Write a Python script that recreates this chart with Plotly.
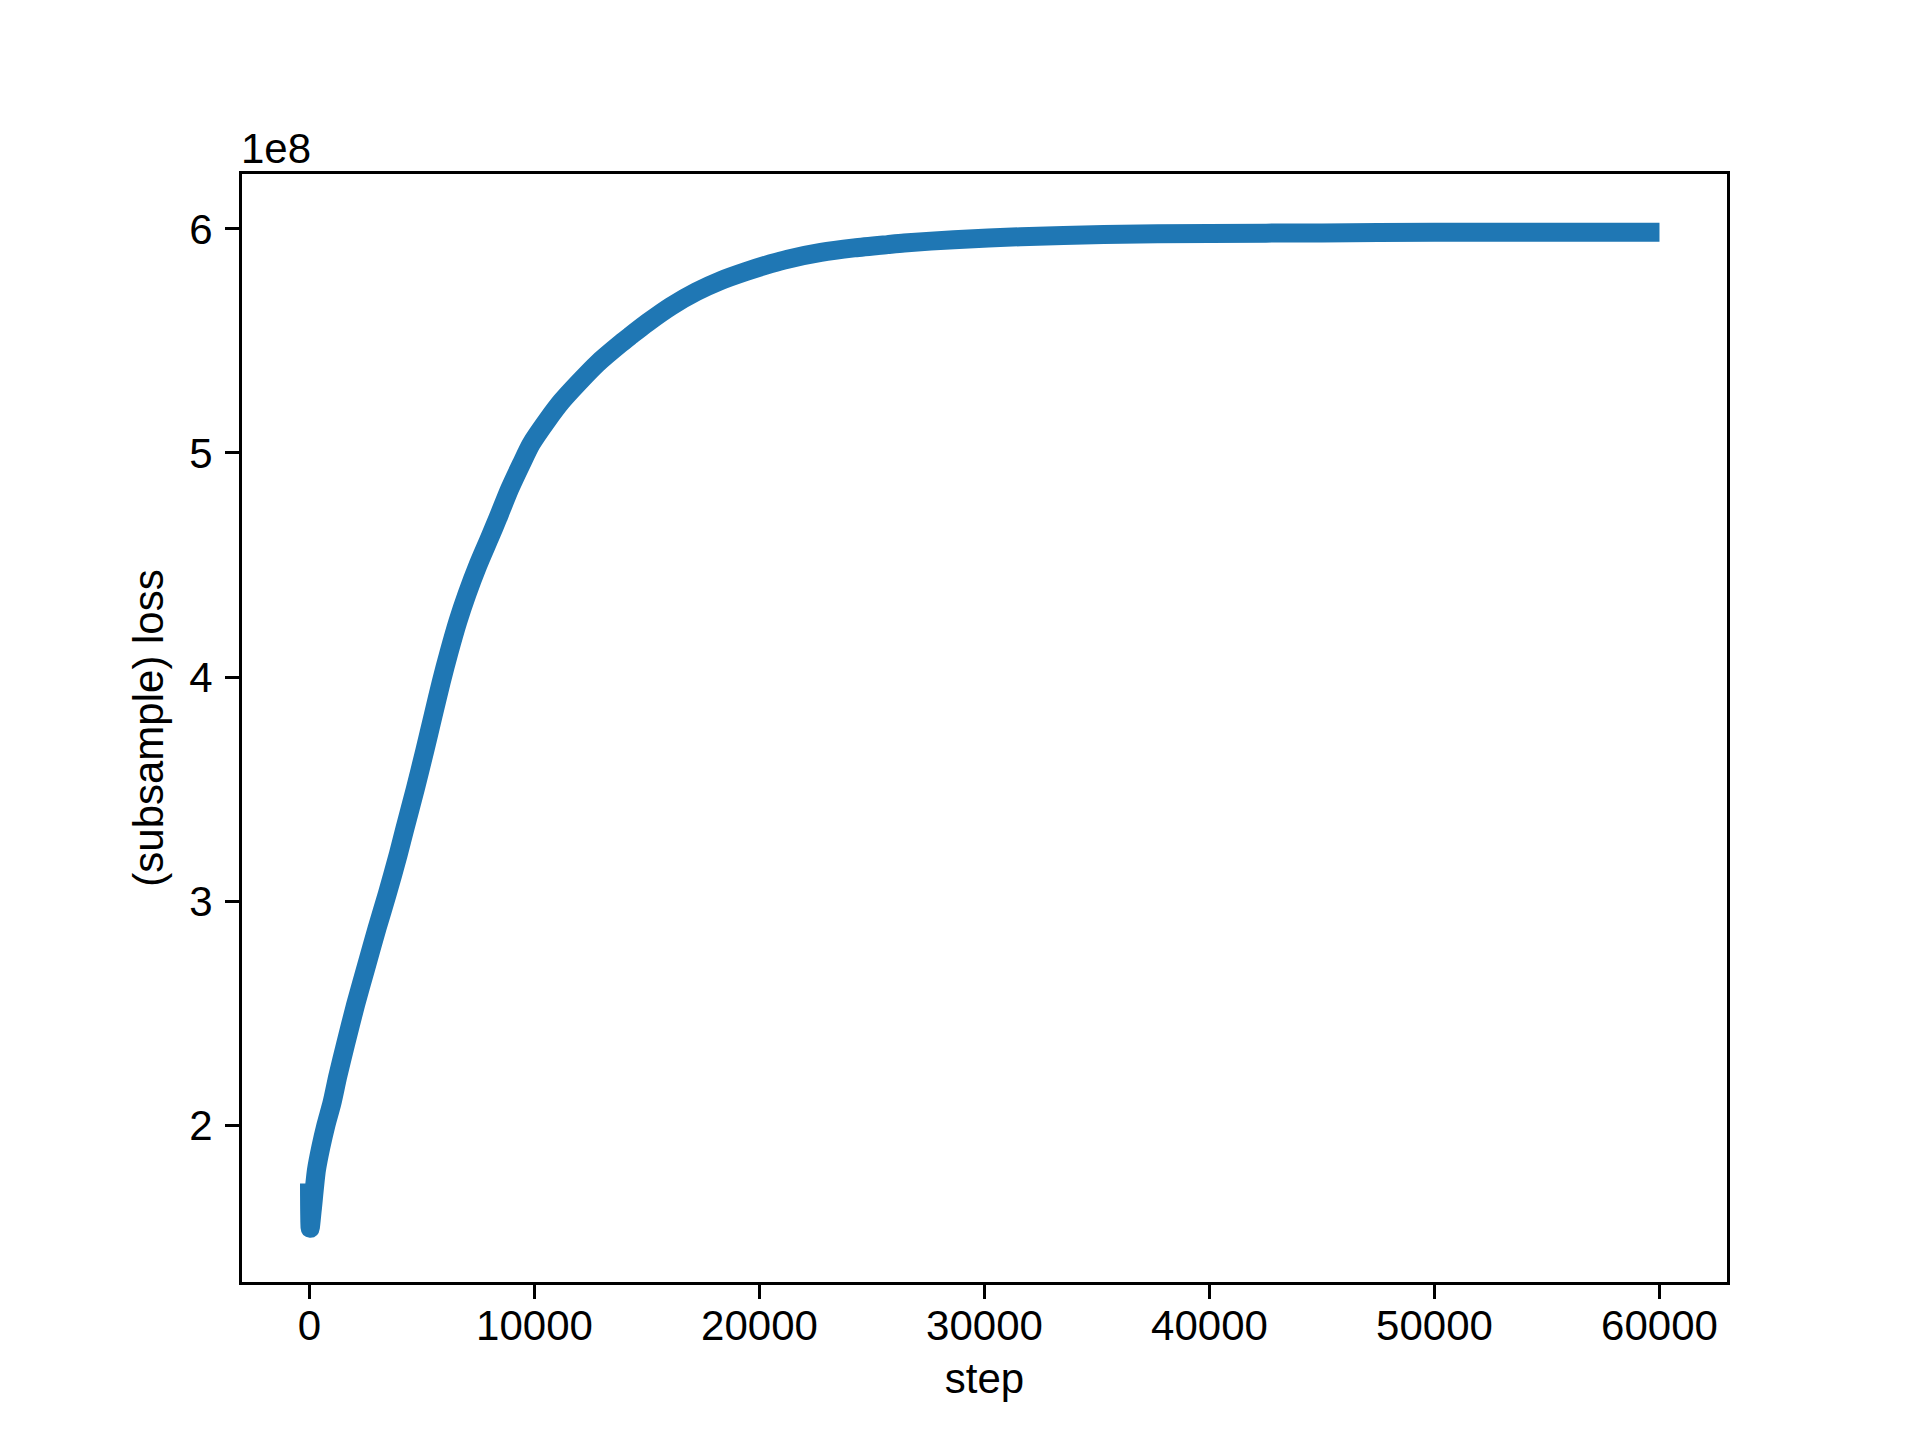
import plotly.graph_objects as go

# training step (x) and subsample loss in units of 1e8 (y)
steps = [0, 30, 120, 310, 500, 730, 1000, 1260, 1600, 2055, 2500, 3005, 3450,
         3950, 4230, 4700, 5120, 5500, 5860, 6200, 6600, 7000, 7490, 8000, 8375,
         8900, 9410, 9850, 10595, 11200, 11925, 12800, 13850, 14290, 15000, 16070,
         17200, 18290, 19400, 20510, 21250, 22730, 24210, 25690, 26430, 28640,
         31600, 35300, 40000, 45000, 50000, 55000, 59999]
loss_e8 = [1.74, 1.54, 1.62, 1.80, 1.90, 2.00, 2.10, 2.22, 2.36, 2.54, 2.70,
           2.88, 3.03, 3.21, 3.32, 3.50, 3.67, 3.83, 3.98, 4.11, 4.25, 4.37, 4.50,
           4.62, 4.71, 4.84, 4.95, 5.04, 5.15, 5.23, 5.31, 5.40, 5.49, 5.525, 5.58,
           5.655, 5.72, 5.77, 5.81, 5.845, 5.865, 5.895, 5.915, 5.93, 5.937, 5.952,
           5.965, 5.975, 5.98, 5.982, 5.985, 5.985, 5.985]

x_ticks = [0, 10000, 20000, 30000, 40000, 50000, 60000]
y_ticks = [2, 3, 4, 5, 6]

FONT = "Liberation Sans, Arial, sans-serif"
FS = 42

fig = go.Figure()
fig.add_trace(go.Scatter(
    x=steps, y=loss_e8, mode="lines",
    line=dict(color="#1f77b4", width=19, shape="spline", smoothing=0.7),
    showlegend=False,
))

axis_common = dict(
    showline=True, linecolor="black", linewidth=3, mirror=True,
    ticks="outside", ticklen=14, tickwidth=3, tickcolor="black",
    showgrid=False, zeroline=False,
    tickfont=dict(family=FONT, size=FS, color="black"),
)

fig.update_layout(
    width=1920, height=1440,
    margin=dict(l=234, r=201, t=166, b=166),
    paper_bgcolor="white", plot_bgcolor="white",
    font=dict(family=FONT, size=FS, color="black"),
    xaxis=dict(range=[-3000, 63000], tickvals=x_ticks,
               ticktext=[str(v) for v in x_ticks],
               title=dict(text="step", font=dict(family=FONT, size=FS, color="black"), standoff=16),
               ticklabelstandoff=-9,
               **axis_common),
    yaxis=dict(range=[1.30, 6.245], tickvals=y_ticks,
               ticktext=[str(v) for v in y_ticks],
               title=dict(text="(subsample) loss", font=dict(family=FONT, size=FS, color="black"), standoff=13),
               ticklabelstandoff=4,
               **axis_common),
    annotations=[dict(text="1e8", xref="paper", yref="paper", x=0, y=1,
                      xanchor="left", yanchor="bottom", showarrow=False,
                      font=dict(family=FONT, size=FS, color="black"),
                      xshift=-3, yshift=0)],
)

fig.write_html("out.html")
